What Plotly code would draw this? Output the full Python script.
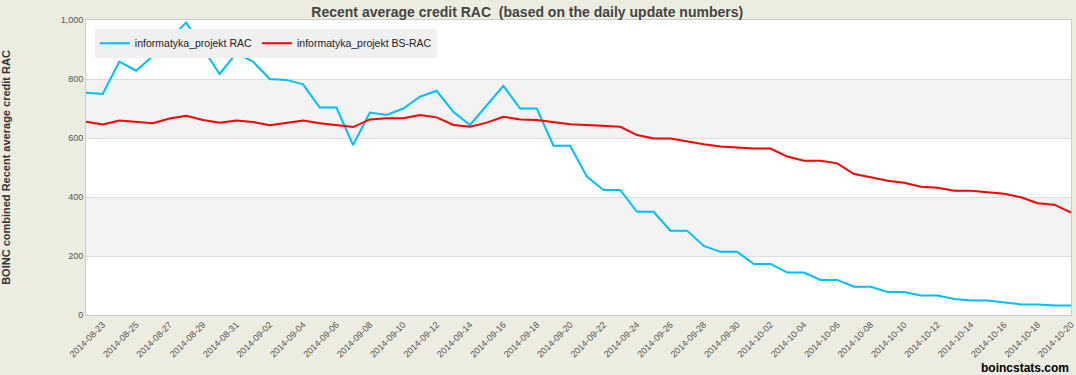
import plotly.graph_objects as go
import pandas as pd

dates = pd.date_range("2014-08-22", "2014-10-20", freq="D").strftime("%Y-%m-%d").tolist()

rac = [753, 749, 859, 828, 878, 935, 991, 904, 817, 887,
       859, 800, 797, 782, 703, 703, 576, 686, 678, 700,
       740, 760, 689, 644, 711, 777, 700, 700, 574, 574,
       469, 424, 424, 350, 350, 286, 286, 234, 214, 214,
       173, 173, 144, 144, 119, 119, 96, 96, 78, 78,
       66, 66, 54, 49, 49, 42, 36, 36, 32, 32]

bs_rac = [655, 646, 659, 654, 650, 666, 675, 661, 652, 659,
          654, 643, 652, 659, 650, 644, 637, 663, 667, 667,
          678, 670, 644, 638, 652, 672, 663, 661, 655, 647,
          644, 642, 638, 610, 598, 598, 588, 579, 571, 568,
          564, 564, 537, 523, 523, 514, 478, 467, 455, 448,
          435, 431, 421, 421, 415, 411, 399, 379, 374, 347]

tick_dates = dates[1::2]
y_ticks = [0, 200, 400, 600, 800, 1000]

series_names = ["informatyka_projekt RAC", "informatyka_projekt BS-RAC"]
colors = ["#00BFFF", "#FF0000"]

fig = go.Figure()
for name, vals, col in zip(series_names, [rac, bs_rac], colors):
    fig.add_trace(go.Scatter(x=dates, y=vals, mode="lines", name=name,
                             line=dict(color=col, width=2)))

# alternating bands
shapes = []
for i in range(len(y_ticks) - 1):
    if i % 2 == 1:
        shapes.append(dict(type="rect", xref="paper", yref="y", x0=0, x1=1,
                           y0=y_ticks[i], y1=y_ticks[i + 1],
                           fillcolor="#F3F3F3", line=dict(width=0), layer="below"))

fig.update_layout(
    width=1076, height=375,
    margin=dict(l=86, r=5, t=20, b=60),
    paper_bgcolor="#ECECE0",
    plot_bgcolor="#FFFFFF",
    font=dict(family="Liberation Sans, Arial, sans-serif", color="#555555"),
    title=dict(text="Recent average credit RAC  (based on the daily update numbers)",
               x=0.49, xanchor="center", y=0.968, yanchor="middle",
               font=dict(size=14, color="#444444", family="Liberation Sans, Arial, sans-serif", weight="bold")),
    shapes=shapes,
    showlegend=True,
    legend=dict(orientation="h", x=0.009, y=0.97, xanchor="left", yanchor="top",
                bgcolor="#F0F0F0", font=dict(size=10.5, color="#222222"),
                itemwidth=30, traceorder="normal"),
    xaxis=dict(type="date", range=[dates[0], dates[-1]], automargin=False,
               tickvals=tick_dates, ticktext=tick_dates, tickangle=-45,
               tickfont=dict(size=9, color="#555555"),
               showgrid=False, zeroline=False, showline=True, linecolor="#CCCCCC",
               mirror=True, ticks=""),
    yaxis=dict(range=[0, 1000], tickvals=y_ticks, tickformat=",", automargin=False,
               tickfont=dict(size=9, color="#555555"),
               showgrid=True, gridcolor="#DDDDDD", zeroline=False,
               showline=True, linecolor="#CCCCCC", mirror=True, ticks="",
               title=dict(text="BOINC combined Recent average credit RAC",
                          font=dict(size=11, color="#333333", weight="bold"),
                          standoff=48)),
    annotations=[dict(text="<b>boincstats.com</b>", xref="paper", yref="paper",
                      x=1, y=-0.15, xanchor="right", yanchor="top", showarrow=False,
                      font=dict(size=12, color="#000000"))],
)

fig.write_html("out.html", config={"displayModeBar": False},
               post_script="document.body.style.margin='0';")
